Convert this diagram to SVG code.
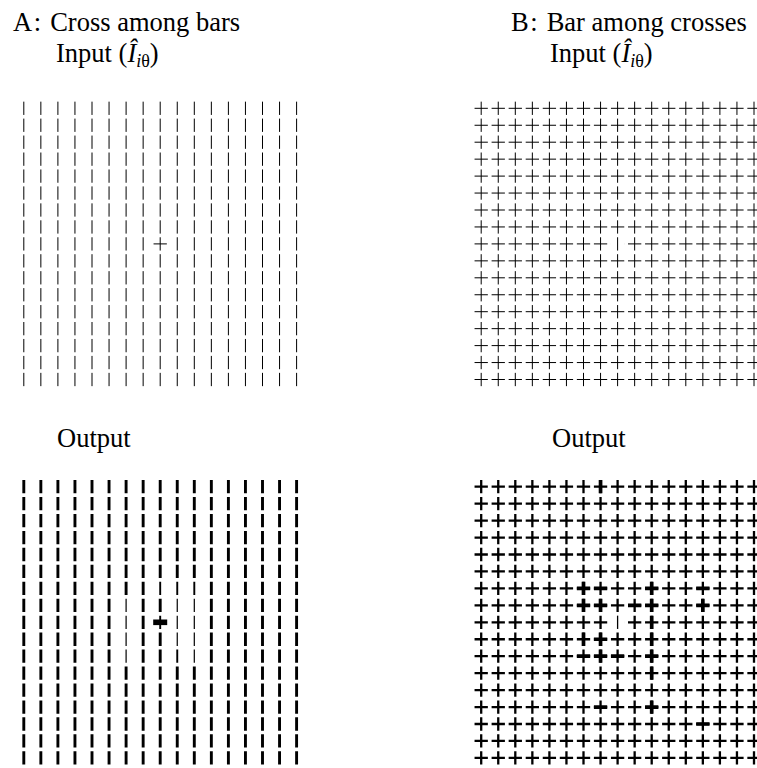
<svg xmlns="http://www.w3.org/2000/svg" xmlns:xlink="http://www.w3.org/1999/xlink" width="757" height="768" viewBox="0 0 757 768">
<style>
text{font-family:"Liberation Serif","Times New Roman",serif;font-size:26.5px;fill:#000}
.it{font-style:italic}
.g{fill:none;stroke:#000;stroke-linecap:butt}
.w{fill:#fff;stroke:none}
</style>
<defs>
<path id="rowBar" d="M0,-6.65v13.3m17.05-13.3v13.3m17.05-13.3v13.3m17.05-13.3v13.3m17.05-13.3v13.3m17.05-13.3v13.3m17.05-13.3v13.3m17.05-13.3v13.3m17.05-13.3v13.3m17.05-13.3v13.3m17.05-13.3v13.3m17.05-13.3v13.3m17.05-13.3v13.3m17.05-13.3v13.3m17.05-13.3v13.3m17.05-13.3v13.3m17.05-13.3v13.3"/>
<path id="rowCross" d="M-6.65,0h13.3m-6.65-6.65v13.3m10.4-6.65h13.3m-6.65-6.65v13.3m10.4-6.65h13.3m-6.65-6.65v13.3m10.4-6.65h13.3m-6.65-6.65v13.3m10.4-6.65h13.3m-6.65-6.65v13.3m10.4-6.65h13.3m-6.65-6.65v13.3m10.4-6.65h13.3m-6.65-6.65v13.3m10.4-6.65h13.3m-6.65-6.65v13.3m10.4-6.65h13.3m-6.65-6.65v13.3m10.4-6.65h13.3m-6.65-6.65v13.3m10.4-6.65h13.3m-6.65-6.65v13.3m10.4-6.65h13.3m-6.65-6.65v13.3m10.4-6.65h13.3m-6.65-6.65v13.3m10.4-6.65h13.3m-6.65-6.65v13.3m10.4-6.65h13.3m-6.65-6.65v13.3m10.4-6.65h13.3m-6.65-6.65v13.3m10.4-6.65h13.3m-6.65-6.65v13.3"/>
<g id="gridBar">
<use xlink:href="#rowBar" y="0"/><use xlink:href="#rowBar" y="16.95"/><use xlink:href="#rowBar" y="33.9"/><use xlink:href="#rowBar" y="50.85"/><use xlink:href="#rowBar" y="67.8"/><use xlink:href="#rowBar" y="84.75"/><use xlink:href="#rowBar" y="101.7"/><use xlink:href="#rowBar" y="118.65"/><use xlink:href="#rowBar" y="135.6"/><use xlink:href="#rowBar" y="152.55"/><use xlink:href="#rowBar" y="169.5"/><use xlink:href="#rowBar" y="186.45"/><use xlink:href="#rowBar" y="203.4"/><use xlink:href="#rowBar" y="220.35"/><use xlink:href="#rowBar" y="237.3"/><use xlink:href="#rowBar" y="254.25"/><use xlink:href="#rowBar" y="271.2"/>
</g>
<g id="gridCross">
<use xlink:href="#rowCross" y="0"/><use xlink:href="#rowCross" y="16.95"/><use xlink:href="#rowCross" y="33.9"/><use xlink:href="#rowCross" y="50.85"/><use xlink:href="#rowCross" y="67.8"/><use xlink:href="#rowCross" y="84.75"/><use xlink:href="#rowCross" y="101.7"/><use xlink:href="#rowCross" y="118.65"/><use xlink:href="#rowCross" y="135.6"/><use xlink:href="#rowCross" y="152.55"/><use xlink:href="#rowCross" y="169.5"/><use xlink:href="#rowCross" y="186.45"/><use xlink:href="#rowCross" y="203.4"/><use xlink:href="#rowCross" y="220.35"/><use xlink:href="#rowCross" y="237.3"/><use xlink:href="#rowCross" y="254.25"/><use xlink:href="#rowCross" y="271.2"/>
</g>
</defs>
<rect width="757" height="768" fill="#fff"/>

<g id="labels">
<text x="13" y="31">A<tspan dx="1.5">:</tspan><tspan dx="2.5"> Cross among bars</tspan></text>
<text x="511" y="31">B<tspan dx="1.5">:</tspan><tspan dx="2.5"> Bar among crosses</tspan></text>
<text x="56" y="62">Input (<tspan class="it">Î</tspan><tspan font-size="18" dy="5"><tspan class="it">i</tspan>θ</tspan><tspan dy="-5">)</tspan></text>
<text x="550" y="62">Input (<tspan class="it">Î</tspan><tspan font-size="18" dy="5"><tspan class="it">i</tspan>θ</tspan><tspan dy="-5">)</tspan></text>
<text x="57" y="447">Output</text>
<text x="552" y="447">Output</text>
</g>

<g id="inputA" class="g" stroke-width="1">
<use xlink:href="#gridBar" transform="translate(23.8,108.3)"/>
<path d="M153.55,243.9h13.3"/>
</g>

<g id="inputB" class="g" stroke-width="1">
<use xlink:href="#gridCross" transform="translate(481.2,108.3)"/>
<rect class="w" x="610.5" y="236.6" width="14.2" height="14.6"/>
<path d="M617.6,237.25v13.3"/>
</g>

<g id="outputA">
<use class="g" stroke-width="2.9" xlink:href="#gridBar" transform="translate(23.8,486.7)"/>
<rect class="w" x="123" y="597.5" width="6.2" height="66"/>
<rect class="w" x="174.1" y="580.5" width="6.3" height="83"/>
<rect class="w" x="191.2" y="580.5" width="6.2" height="83"/>
<rect class="w" x="157.1" y="580.5" width="6.2" height="15.2"/>
<rect class="w" x="157.1" y="614.5" width="6.2" height="15.2"/>
<path class="g" stroke-width="1.2" d="M126.1,598.7v13.3M126.1,615.65v13.3M126.1,632.6v13.3M126.1,649.55v13.3M177.25,598.7v13.3M177.25,615.65v13.3M177.25,632.6v13.3M194.3,598.7v13.3M194.3,615.65v13.3M194.3,632.6v13.3M194.3,649.55v13.3"/>
<path class="g" stroke-width="1.9" d="M160.2,581.75v13.3M177.25,581.75v13.3M194.3,581.75v13.3M177.25,649.55v13.3M160.2,615.65v13.3"/>
<rect x="153.2" y="619.5" width="14" height="5.6" fill="#000"/>
</g>

<g id="outputB">
<use class="g" stroke-width="2.3" xlink:href="#gridCross" transform="translate(481.2,486.7)"/>
<path class="g" stroke-width="3.7" d="M600.55,480.05v13.3M576.85,588.4h13.3M583.5,581.75v13.3M593.9,588.4h13.3M645.05,588.4h13.3M651.7,581.75v13.3M696.2,588.4h13.3M576.85,605.35h13.3M583.5,598.7v13.3M593.9,605.35h13.3M600.55,598.7v13.3M628,605.35h13.3M645.05,605.35h13.3M651.7,598.7v13.3M696.2,605.35h13.3M702.85,598.7v13.3M651.7,615.65v13.3M583.5,632.6v13.3M593.9,639.25h13.3M600.55,632.6v13.3M651.7,632.6v13.3M576.85,656.2h13.3M593.9,656.2h13.3M600.55,649.55v13.3M610.95,656.2h13.3M645.05,656.2h13.3M651.7,649.55v13.3M651.7,666.5v13.3M593.9,707.05h13.3M645.05,707.05h13.3M651.7,700.4v13.3M696.2,724h13.3"/>
<rect class="w" x="610.3" y="615" width="14.6" height="14.6"/>
<path class="g" stroke-width="1.3" d="M617.6,615.65v13.3"/>
</g>
</svg>
